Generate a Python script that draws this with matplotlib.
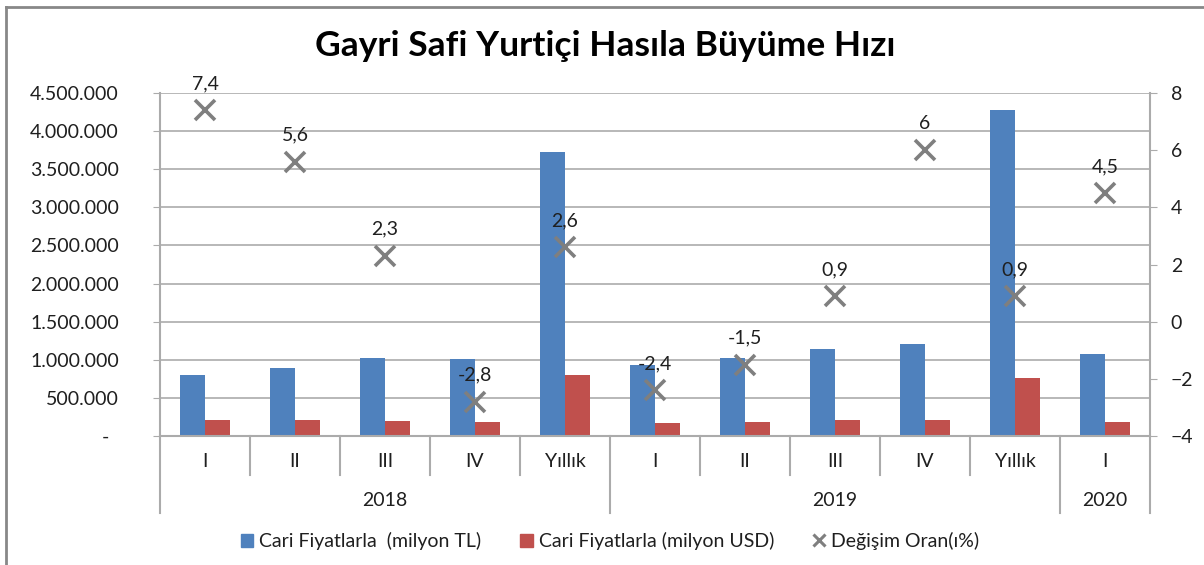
import numpy as np
import matplotlib
matplotlib.use("Agg")
from matplotlib import pyplot as plt
from matplotlib.lines import Line2D
from matplotlib.patches import Patch
import matplotlib.transforms as mtransforms

plt.rcParams['font.family'] = ['Lato', 'DejaVu Sans']

quarters = ["I", "II", "III", "IV", "Yıllık", "I", "II", "III", "IV", "Yıllık", "I"]
years = ["2018", "2019", "2020"]
year_span = [(0, 4), (5, 9), (10, 10)]
tl_values = [800000, 888000, 1028000, 1015000, 3724000,
             930000, 1027000, 1142000, 1207000, 4280000, 1080000]
usd_values = [210000, 210000, 197000, 184000, 797000,
              171000, 184000, 210000, 210000, 757000, 184000]
change = [7.4, 5.6, 2.3, -2.8, 2.6, -2.4, -1.5, 0.9, 6, 0.9, 4.5]

BLUE = "#4F81BD"
RED = "#C0504D"
GRAY = "#7F7F7F"
GRID = "#ABABAB"
TXT = "#1F1F1F"
FS = 14

fig = plt.figure(figsize=(12.04, 5.65), dpi=100)
ax = fig.add_axes([160 / 1204, 1 - 436 / 565, 990 / 1204, 343 / 565])
ax2 = ax.twinx()

x = np.arange(len(quarters))
w = 0.28
ax.bar(x - w / 2, tl_values, w, color=BLUE, zorder=3)
ax.bar(x + w / 2, usd_values, w, color=RED, zorder=3)

ax.set_xlim(-0.5, len(quarters) - 0.5)
ax.set_ylim(0, 4500000)
yt = np.arange(0, 4500001, 500000)
ax.set_yticks(yt)
ax.set_yticklabels(["-  " if v == 0 else f"{v:,}".replace(",", ".") for v in yt])
ax.tick_params(axis='y', length=5, color=GRID, pad=24.5, labelsize=FS, labelcolor=TXT)
ax.yaxis.grid(True, color=GRID, lw=1.2, zorder=0)
ax.set_axisbelow(True)
ax.set_xticks([])
for s in ax.spines.values():
    s.set_visible(False)

ax2.set_ylim(-4, 8)
ax2.set_yticks(np.arange(-4, 9, 2))
ax2.tick_params(axis='y', length=5, color=GRID, pad=10, labelsize=FS, labelcolor=TXT)
for s in ax2.spines.values():
    s.set_visible(False)

ax2.plot(x, change, ls='none', marker='x', ms=14, mew=2.6, color=GRAY, zorder=4)
for xi, v in zip(x, change):
    ax2.annotate(f"{v:g}".replace(".", ","), (xi, v), xytext=(0, 13), textcoords='offset points',
                 ha='center', va='bottom', fontsize=FS, color=TXT)

# axis lines and category separators
trans = mtransforms.blended_transform_factory(ax.transData, ax.transAxes)
ax.plot([-0.5, len(quarters) - 0.5], [0, 0], transform=trans, color=GRID, lw=1.5, clip_on=False, zorder=5)
long_b = [-0.5, 4.5, 9.5, 10.5]
for b in np.arange(-0.5, len(quarters), 1.0):
    y0 = -0.2245 if b in long_b else -0.1137
    y1 = 1.0 if b in (-0.5, 10.5) else 0.0
    ax.plot([b, b], [y0, y1], transform=trans, color=GRID, lw=1.5, clip_on=False, zorder=5)

for xi, q in zip(x, quarters):
    ax.text(xi, -0.0758, q, transform=trans, ha='center', va='center', fontsize=FS, color=TXT)
for yr, (a, b) in zip(years, year_span):
    ax.text((a + b) / 2, -0.1895, yr, transform=trans, ha='center', va='center', fontsize=FS, color=TXT)

fig.text(0.503, 1 - 46 / 565, "Gayri Safi Yurtiçi Hasıla Büyüme Hızı", ha='center', va='center',
         fontsize=25.5, fontweight='bold', color='black')

handles = [Patch(color=BLUE), Patch(color=RED),
           Line2D([], [], ls='none', marker='x', ms=9, mew=2.2, color=GRAY)]
labels = ["Cari Fiyatlarla  (milyon TL)", "Cari Fiyatlarla (milyon USD)", "Değişim Oran(ı%)"]
fig.legend(handles, labels, loc='center', bbox_to_anchor=(610 / 1204, 1 - 541 / 565), ncol=3,
           frameon=False, fontsize=FS, handlelength=0.65, handleheight=0.65,
           handletextpad=0.3, columnspacing=2.0, labelcolor=TXT)

# chart border
fig.add_artist(Line2D([6 / 1204, 6 / 1204], [0, 1 - 7 / 565], color="#888888", lw=2))
fig.add_artist(Line2D([6 / 1204, 1], [1 - 7 / 565, 1 - 7 / 565], color="#888888", lw=2))

fig.savefig("out.png", dpi=100)
